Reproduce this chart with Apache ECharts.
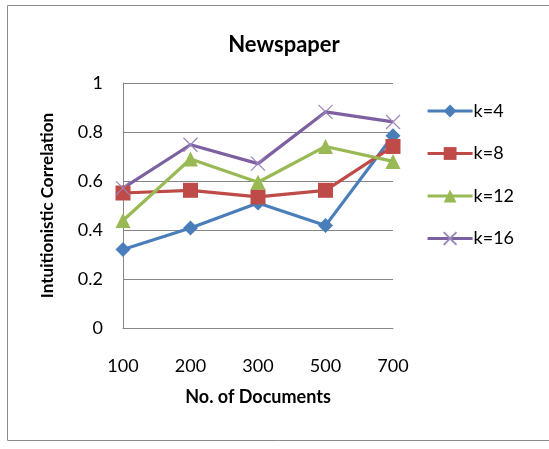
<!DOCTYPE html>
<html><head><meta charset="utf-8">
<script src="https://cdn.jsdelivr.net/npm/echarts@6/dist/echarts.min.js"></script>
<style>html,body{margin:0;padding:0;background:#fff}#c{width:549px;height:449px}</style>
</head><body><div id="c"></div>
<script>
const categories = ['100','200','300','500','700'];
const seriesNames = ['k=4','k=8','k=12','k=16'];
const k4 = [0.32, 0.408, 0.51, 0.418, 0.785];
const k8 = [0.551, 0.562, 0.535, 0.562, 0.741];
const k12 = [0.439, 0.69, 0.595, 0.741, 0.68];
const k16 = [0.571, 0.748, 0.671, 0.882, 0.841];
const yTicks = [0, 0.2, 0.4, 0.6, 0.8, 1];

const FONT = 'Lato, "Noto Sans", sans-serif';
const colors = ['#4A7EBB', '#BE4B48', '#98B954', '#7D60A0'];
const xPath = 'path://M0,0L10,10M10,0L0,10';

const chart = echarts.init(document.getElementById('c'), null, {renderer: 'canvas'});
function mk(name, data, color, symbol, size, extra) {
  return Object.assign({
    name: name, type: 'line', data: data, symbol: symbol, symbolSize: size,
    lineStyle: {color: color, width: 3.2},
    itemStyle: {color: color},
    z: 2
  }, extra || {});
}
chart.setOption({
  animation: false,
  color: colors,
  title: {
    text: 'Newspaper', left: 279, top: 29, textAlign: 'center',
    textStyle: {fontFamily: FONT, fontWeight: 'bold', fontSize: 22, color: '#000'}
  },
  graphic: [{
    type: 'rect', shape: {x: 7.5, y: 5.5, width: 560, height: 435},
    style: {fill: 'none', stroke: '#8c8c8c', lineWidth: 1}, silent: true
  }],
  legend: {
    orient: 'vertical', left: 421, top: 97, itemGap: 24.5, itemWidth: 45, itemHeight: 16,
    lineStyle: {width: 3.2},
    textStyle: {fontFamily: FONT, fontSize: 18, color: '#000', padding: [0,0,0,-4]},
    data: seriesNames
  },
  grid: {left: 123, right: 156, top: 83, bottom: 121, containLabel: false},
  xAxis: {
    type: 'category', data: categories, boundaryGap: false,
    name: 'No. of Documents', nameLocation: 'middle', nameGap: 60,
    nameTextStyle: {fontFamily: FONT, fontWeight: 'bold', fontSize: 18, color: '#000'},
    axisLine: {lineStyle: {color: '#868686', width: 1}},
    axisTick: {show: false},
    axisLabel: {fontFamily: FONT, fontSize: 18, color: '#000', margin: 29},
    splitLine: {show: false}
  },
  yAxis: {
    type: 'value', min: 0, max: 1, interval: 0.2,
    name: 'Intuitionistic Correlation', nameLocation: 'middle', nameGap: 67,
    nameTextStyle: {fontFamily: FONT, fontWeight: 'bold', fontSize: 17, color: '#000'},
    axisLine: {show: true, lineStyle: {color: '#868686', width: 1}},
    axisTick: {show: false},
    axisLabel: {fontFamily: FONT, fontSize: 18, color: '#000', margin: 20,
      formatter: v => { const t = yTicks.find(y => Math.abs(y - v) < 1e-9); return t === undefined ? '' : String(t); }},
    splitLine: {lineStyle: {color: '#868686', width: 1}}
  },
  series: [
    mk(seriesNames[0], k4, colors[0], 'diamond', 15),
    mk(seriesNames[1], k8, colors[1], 'rect', 15),
    mk(seriesNames[2], k12, colors[2], 'triangle', 15),
    mk(seriesNames[3], k16, colors[3], xPath, 14, {
      itemStyle: {color: 'rgba(0,0,0,0)', borderColor: '#9A86BC', borderWidth: 1.2}
    })
  ]
});
</script></body></html>
